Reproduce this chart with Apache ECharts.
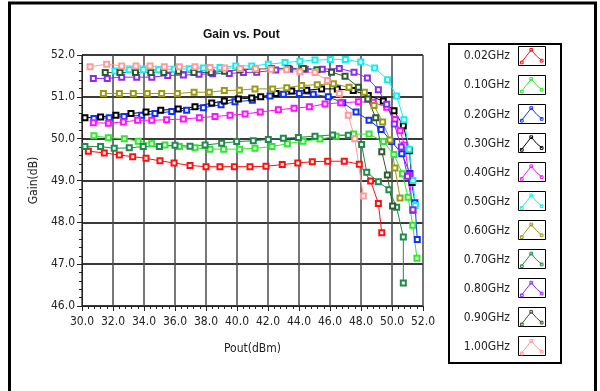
<!DOCTYPE html>
<html>
<head>
<meta charset="utf-8">
<script src="https://cdn.jsdelivr.net/npm/echarts@6/dist/echarts.min.js"></script>
<style>
  html, body { margin: 0; padding: 0; background: #fff; }
  #gainChart { width: 600px; height: 391px; }
</style>
</head>
<body>
<div id="gainChart"></div>
<script>
// 图例名称（频点）
const freqNames = ['0.02GHz', '0.10GHz', '0.20GHz', '0.30GHz', '0.40GHz', '0.50GHz',
  '0.60GHz', '0.70GHz', '0.80GHz', '0.90GHz', '1.00GHz'];
const freqColors = ['#ff1010', '#2ee82e', '#1030ff', '#000000', '#ff10ff', '#10f0f0',
  '#9a9a10', '#1f8a4c', '#8a2cf0', '#2f5a2f', '#ff9a9a'];

// 每条曲线 [Pout(dBm), Gain(dB)]
const gain002 = [[30.41,49.70],[31.44,49.66],[32.41,49.61],[33.27,49.57],[34.13,49.53],[35.03,49.47],[35.94,49.42],[36.97,49.36],[38.0,49.33],[38.9,49.33],[39.83,49.33],[40.84,49.33],[41.87,49.34],[42.92,49.38],[43.92,49.42],[44.86,49.45],[45.85,49.46],[46.92,49.46],[47.89,49.39],[48.62,48.99],[49.12,48.45],[49.34,47.75]];
const gain010 = [[30.77,50.07],[31.70,50.02],[32.73,50.0],[33.63,49.94],[34.50,49.88],[35.35,49.85],[36.28,49.81],[37.29,49.78],[38.26,49.75],[39.14,49.75],[40.17,49.75],[41.16,49.77],[42.26,49.81],[43.25,49.88],[44.26,49.94],[45.35,49.99],[46.39,50.06],[47.53,50.11],[48.52,50.11],[49.44,49.93],[50.13,49.62],[50.67,49.16],[51.04,48.60],[51.34,47.93],[51.61,47.14]];
const gain020 = [[30.77,50.48],[31.76,50.50],[32.71,50.53],[33.85,50.56],[34.71,50.60],[35.79,50.65],[36.75,50.68],[37.83,50.74],[38.97,50.81],[39.87,50.88],[40.99,50.92],[42.13,51.02],[42.99,51.06],[44.02,51.08],[44.92,51.06],[45.89,51.0],[46.82,50.86],[47.68,50.64],[48.52,50.44],[49.30,50.22],[49.98,49.93],[50.63,49.64],[51.16,49.17],[51.48,48.47],[51.63,47.59]];
const gain030 = [[30.19,50.50],[31.20,50.52],[32.19,50.56],[33.16,50.60],[34.13,50.64],[35.08,50.68],[36.21,50.71],[37.29,50.76],[38.37,50.85],[39.18,50.90],[40.09,50.95],[40.95,50.97],[41.53,51.0],[42.52,51.08],[43.53,51.14],[44.50,51.16],[45.46,51.19],[46.47,51.19],[47.50,51.15],[48.47,51.03],[49.44,50.90],[50.13,50.67],[50.73,50.31],[51.12,49.71],[51.30,48.95]];
const gain040 = [[30.73,50.38],[31.70,50.37],[32.67,50.40],[33.59,50.44],[34.50,50.44],[35.46,50.45],[36.54,50.47],[37.57,50.50],[38.58,50.53],[39.55,50.56],[40.52,50.59],[41.50,50.64],[42.67,50.69],[43.68,50.73],[44.67,50.76],[45.68,50.83],[46.69,50.86],[47.83,50.88],[48.79,50.87],[49.66,50.75],[50.19,50.46],[50.52,50.19],[50.80,49.85],[51.10,49.12],[51.35,48.28]];
const gain050 = [[32.13,51.62],[33.05,51.65],[33.95,51.65],[34.92,51.65],[35.94,51.66],[36.92,51.67],[37.83,51.69],[38.90,51.70],[39.92,51.74],[40.95,51.74],[42.02,51.78],[43.10,51.82],[44.06,51.85],[45.03,51.88],[46.02,51.89],[46.99,51.89],[47.98,51.83],[48.88,51.69],[49.71,51.41],[50.30,51.02],[50.77,50.45],[51.10,49.75],[51.35,49.0],[51.50,48.40]];
const gain060 = [[31.38,51.08],[32.41,51.08],[33.31,51.08],[34.21,51.08],[35.14,51.08],[36.15,51.08],[37.23,51.11],[38.21,51.11],[39.18,51.15],[40.15,51.16],[41.16,51.19],[42.30,51.19],[43.21,51.22],[44.17,51.27],[45.18,51.29],[46.22,51.31],[47.23,51.23],[48.22,51.11],[48.84,50.79],[49.40,50.40],[49.87,49.97],[50.19,49.30],[50.52,48.58]];
const gain070 = [[30.19,49.81],[31.20,49.81],[32.08,49.77],[33.05,49.78],[33.95,49.81],[34.99,49.81],[36.0,49.84],[36.97,49.82],[37.94,49.85],[39.01,49.89],[39.98,49.93],[41.05,49.95],[42.02,49.98],[42.99,50.01],[43.96,50.03],[45.03,50.06],[46.17,50.09],[47.18,50.08],[48.04,49.86],[48.37,49.20],[49.12,48.97],[49.80,48.78],[50.30,48.36],[50.73,47.65],[50.73,46.55]];
const gain080 = [[30.73,51.44],[31.63,51.44],[32.56,51.47],[33.53,51.47],[34.50,51.47],[35.53,51.51],[36.54,51.52],[37.55,51.54],[38.43,51.55],[39.50,51.56],[40.41,51.58],[41.27,51.59],[42.50,51.64],[43.40,51.66],[44.40,51.66],[45.50,51.66],[46.60,51.68],[47.55,51.59],[48.41,51.45],[49.12,51.17],[49.66,50.82],[50.15,50.35],[50.60,49.80],[51.0,49.10],[51.35,48.30]];
const gain090 = [[31.50,51.58],[32.45,51.58],[33.45,51.58],[34.44,51.58],[35.28,51.58],[36.23,51.61],[37.22,51.58],[38.33,51.58],[39.20,51.61],[40.20,51.65],[41.19,51.66],[42.23,51.68],[43.30,51.68],[44.29,51.68],[45.16,51.65],[46.10,51.59],[46.97,51.49],[47.83,51.23],[48.44,50.95],[48.95,50.50],[49.34,49.69],[49.70,49.13],[50.04,48.39]];
const gain100 = [[30.52,51.72],[31.59,51.78],[32.56,51.74],[33.48,51.74],[34.39,51.74],[35.31,51.72],[36.28,51.72],[37.29,51.72],[38.26,51.70],[39.20,51.69],[40.20,51.68],[41.20,51.67],[42.20,51.66],[43.20,51.65],[44.06,51.60],[45.03,51.58],[45.83,51.39],[46.60,51.08],[47.18,50.56],[47.60,50.0],[48.15,48.63]];

const allGain = [gain002, gain010, gain020, gain030, gain040, gain050,
  gain060, gain070, gain080, gain090, gain100];

const xTicks = { min: 30, max: 52, interval: 2 };
const yTicks = { min: 46, max: 52, interval: 1 };

var gainChart = echarts.init(document.getElementById('gainChart'));
const baseFont = "'Liberation Sans Narrow', 'DejaVu Sans Condensed', 'Liberation Sans', Arial, sans-serif";

// 图例外框：每个图标一个黑框
const legendBoxes = freqNames.map((n, i) => ({
  type: 'rect',
  shape: { x: 518.5, y: 46.5 + i * 29, width: 27, height: 19 },
  style: { fill: 'none', stroke: '#000', lineWidth: 1 },
  silent: true
}));

const option = {
  animation: false,
  backgroundColor: '#fff',
  title: {
    text: 'Gain vs. Pout',
    left: 203,
    top: 29,
    padding: 0,
    textStyle: { fontSize: 12, fontWeight: 'bold', color: '#111', fontFamily: 'Liberation Sans, Arial, sans-serif' }
  },
  grid: { left: 82, top: 55, width: 341, height: 251, containLabel: false },
  legend: {
    orient: 'vertical',
    right: 56.5,
    top: 48,
    padding: 0,
    align: 'right',
    itemWidth: 28,
    itemHeight: 16,
    itemGap: 12.75,
    // 起点的 M-5,9 只是留出左侧空白
    icon: 'path://M-5,9M2,17L13,3L19,10L25,15M11.5,1.5h3v3h-3zM1,15.5h3v3h-3zM23,13.5h3v3h-3z',
    textStyle: { fontSize: 12, lineHeight: 14, color: '#222', fontFamily: baseFont },
    data: freqNames.map((n, i) => ({
      name: n,
      itemStyle: { color: 'rgba(255,255,255,0)', borderColor: freqColors[i], borderWidth: 1 }
    }))
  },
  xAxis: {
    type: 'value',
    min: xTicks.min,
    max: xTicks.max,
    interval: xTicks.interval,
    name: 'Pout(dBm)',
    nameLocation: 'middle',
    nameGap: 37,
    nameTextStyle: { fontSize: 12, color: '#222', fontFamily: baseFont },
    axisLine: { lineStyle: { color: '#222', width: 1 } },
    axisTick: { show: true, length: 5, lineStyle: { color: '#222' } },
    minorTick: { show: true, splitNumber: 5, length: 3, lineStyle: { color: '#222' } },
    axisLabel: { margin: 10, fontSize: 12, color: '#222', fontFamily: baseFont, formatter: v => v.toFixed(1) },
    splitLine: { show: true, lineStyle: { color: '#4a4a4a', width: 1.5 } }
  },
  yAxis: {
    type: 'value',
    min: yTicks.min,
    max: yTicks.max,
    interval: yTicks.interval,
    name: 'Gain(dB)',
    nameLocation: 'middle',
    nameGap: 31,
    nameTextStyle: { fontSize: 12, color: '#222', fontFamily: baseFont },
    axisLine: { show: true, lineStyle: { color: '#222', width: 1 } },
    axisTick: { show: true, length: 5, lineStyle: { color: '#222' } },
    minorTick: { show: true, splitNumber: 5, length: 3, lineStyle: { color: '#222' } },
    axisLabel: { margin: 7, fontSize: 12, color: '#222', fontFamily: baseFont, formatter: v => v.toFixed(1) },
    splitLine: { show: true, lineStyle: { color: '#3a3a3a', width: 2 } }
  },
  graphic: [
    {
      type: 'rect',
      shape: { x: 9.5, y: 3, width: 586, height: 400 },
      style: { fill: 'none', stroke: '#000', lineWidth: 3 },
      silent: true
    },
    {
      type: 'rect',
      shape: { x: 449, y: 44, width: 112, height: 319 },
      style: { fill: 'none', stroke: '#000', lineWidth: 2 },
      silent: true
    }
  ].concat(legendBoxes),
  series: freqNames.map((name, i) => ({
    name: name,
    type: 'line',
    data: allGain[i],
    symbol: 'emptyRect',
    symbolSize: 5,
    showAllSymbol: true,
    color: freqColors[i],
    lineStyle: { width: 1, color: freqColors[i] },
    itemStyle: { color: freqColors[i], borderWidth: 1 }
  }))
};

gainChart.setOption(option);
</script>
</body>
</html>
